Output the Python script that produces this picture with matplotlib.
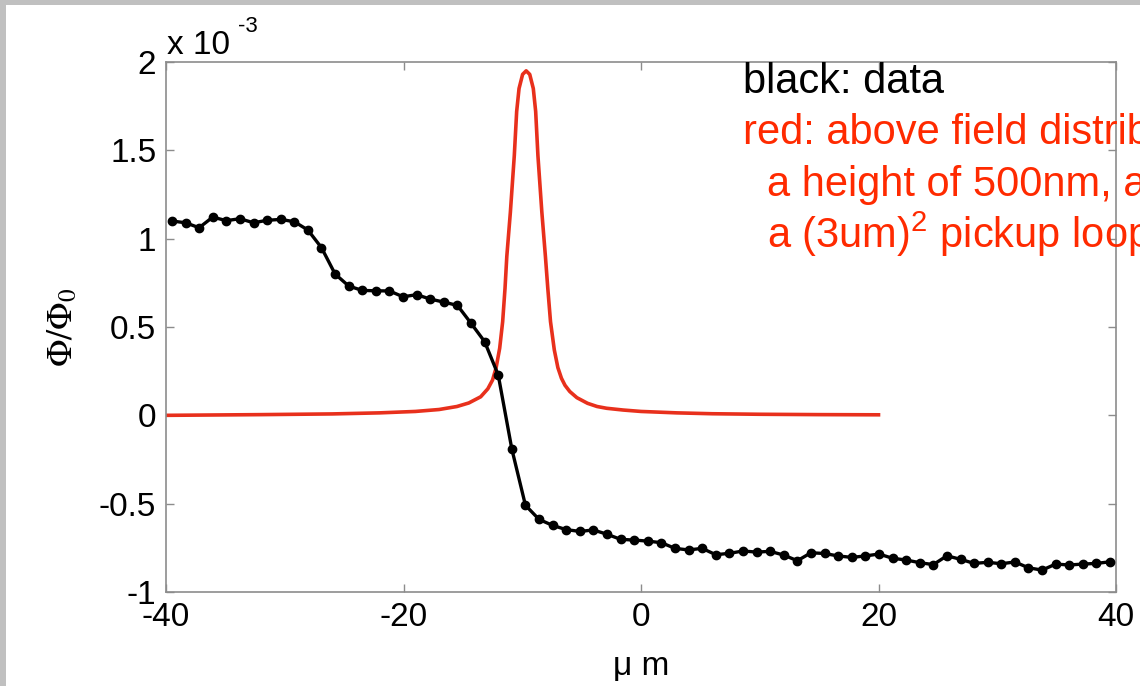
import numpy as np
import matplotlib
matplotlib.use('Agg')
import matplotlib.pyplot as plt
from matplotlib.patches import Rectangle

plt.rcParams['font.family'] = ['Liberation Sans', 'DejaVu Sans']
plt.rcParams['mathtext.fontset'] = 'custom'
plt.rcParams['mathtext.rm'] = 'Liberation Sans'
plt.rcParams['mathtext.it'] = 'Liberation Sans:italic'

# ===== data (flux in units of 1e-3 Phi_0, position in um) =====
# scan positions: 70 evenly spaced points
x_data = np.linspace(-39.5, 39.5, 70)
flux_data = [
    1.100, 1.090, 1.062, 1.122, 1.102, 1.113, 1.090, 1.104, 1.109, 1.096,
    1.049, 0.949, 0.800, 0.732, 0.707, 0.705, 0.704, 0.671, 0.683, 0.658,
    0.641, 0.622, 0.521, 0.417, 0.228, -0.191, -0.509, -0.589, -0.623, -0.647,
    -0.657, -0.649, -0.673, -0.702, -0.706, -0.712, -0.721, -0.753, -0.762, -0.753,
    -0.789, -0.781, -0.768, -0.774, -0.770, -0.791, -0.823, -0.778, -0.782, -0.796,
    -0.804, -0.796, -0.785, -0.809, -0.819, -0.834, -0.845, -0.795, -0.815, -0.838,
    -0.832, -0.840, -0.830, -0.863, -0.876, -0.842, -0.847, -0.842, -0.838, -0.829,
]

# calculated field distribution (red curve)
x_model = [-40, -32, -26, -22, -19, -17, -15.5, -14.5, -13.5, -12.9,
           -12.5, -12.2, -11.9, -11.65, -11.45, -11.3, -11.0, -10.67, -10.47, -10.27,
           -9.97, -9.67, -9.37, -9.07, -8.87, -8.68, -8.35, -8.05, -7.85, -7.62,
           -7.3, -7.0, -6.7, -6.4, -6.0, -5.4, -4.5, -3.7, -2.9, -1.5,
           0, 3, 6, 10, 15, 20]
flux_model = [0.0, 0.004, 0.008, 0.014, 0.022, 0.033, 0.05, 0.07, 0.105, 0.15,
              0.20, 0.27, 0.38, 0.53, 0.72, 0.90, 1.15, 1.47, 1.72, 1.85,
              1.93, 1.95, 1.93, 1.85, 1.72, 1.47, 1.15, 0.90, 0.72, 0.53,
              0.37, 0.27, 0.21, 0.17, 0.135, 0.10, 0.068, 0.05, 0.04, 0.03,
              0.022, 0.014, 0.009, 0.006, 0.004, 0.003]

x_ticks = [-40, -20, 0, 20, 40]
y_ticks = [-1, -0.5, 0, 0.5, 1, 1.5, 2]
y_ticklabels = ['-1', '-0.5', '0', '0.5', '1', '1.5', '2']

W, H = 1140, 686
fig = plt.figure(figsize=(W / 100, H / 100), dpi=100)
fig.patch.set_facecolor('#c0c0c0')
fig.patches.append(Rectangle((6 / W, 0), 1, 1 - 4.5 / H, transform=fig.transFigure,
                             facecolor='white', edgecolor='none', zorder=-1))

ax = fig.add_axes([166 / W, 1 - 592 / H, 950 / W, 530 / H])

ax.plot(x_model, flux_model, '-', color='#e8301c', lw=2.6, zorder=2)
ax.plot(x_data, flux_data, '-o', color='black', lw=2.4, ms=6, zorder=3)

ax.set_xlim(-40, 40)
ax.set_ylim(-1, 2)
ax.set_xticks(x_ticks)
ax.set_xticklabels([str(t) for t in x_ticks])
ax.set_yticks(y_ticks)
ax.set_yticklabels(y_ticklabels)

ax.tick_params(direction='in', length=6, width=1, color='#8c8c8c',
               top=True, right=True, labelsize=24, pad=7, labelcolor='black')
for s in ax.spines.values():
    s.set_color('#8c8c8c')
    s.set_linewidth(1.2)

ax.set_ylabel(r'$\Phi/\Phi_0$', fontsize=26, math_fontfamily='stix')
ax.yaxis.set_label_coords(-0.09, 0.5)
ax.set_xlabel('\u03bc m', fontsize=24)
ax.xaxis.set_label_coords(0.5, -0.112)

# MATLAB-style exponent label
fig.text(167 / W, 1 - 54 / H, 'x 10', fontsize=24, va='baseline', ha='left')
fig.text(238 / W, 1 - 32 / H, '-3', fontsize=16, va='baseline', ha='left')

# annotations (run off the right edge as in the original)
fs = 30
fig.text(743 / W, 1 - 93 / H, 'black: data', fontsize=fs, color='black', va='baseline')
fig.text(743 / W, 1 - 144 / H, 'red: above field distribution at', fontsize=fs,
         color='#ff2a00', va='baseline')
fig.text(767 / W, 1 - 196 / H, 'a height of 500nm, averaged over', fontsize=fs,
         color='#ff2a00', va='baseline')
fig.text(767 / W, 1 - 248 / H, r'a (3um)$^{2}$ pickup loop', fontsize=fs,
         color='#ff2a00', va='baseline')

fig.savefig('out.png', dpi=100)
